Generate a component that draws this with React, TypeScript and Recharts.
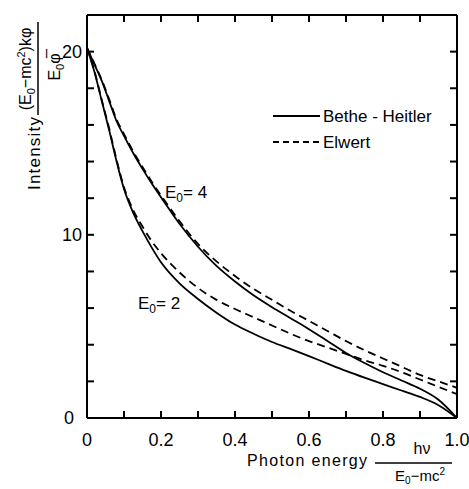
import { LineChart, Line, XAxis, YAxis } from 'recharts';

const xs = [0, 0.02, 0.04, 0.06, 0.08, 0.1, 0.125, 0.15, 0.175, 0.2, 0.25, 0.3, 0.35, 0.4, 0.45, 0.5, 0.55, 0.6, 0.65, 0.7, 0.75, 0.8, 0.85, 0.9, 0.95, 1.0];
// E0 = 4
const betheHeitler4 = [20.2, 19.3, 18.4, 17.3, 16.2, 15.4, 14.45, 13.6, 12.8, 12.05, 10.6, 9.35, 8.3, 7.45, 6.7, 6.05, 5.45, 4.85, 4.2, 3.55, 3.0, 2.5, 2.05, 1.6, 1.0, 0];
const elwert4 = [20.2, 19.35, 18.45, 17.4, 16.3, 15.5, 14.55, 13.7, 12.9, 12.15, 10.75, 9.5, 8.55, 7.75, 7.05, 6.45, 5.85, 5.3, 4.75, 4.2, 3.7, 3.25, 2.8, 2.35, 2.0, 1.65];
// E0 = 2
const betheHeitler2 = [20.2, 18.9, 17.3, 15.7, 14.0, 12.5, 11.2, 10.2, 9.3, 8.5, 7.35, 6.5, 5.75, 5.1, 4.6, 4.15, 3.77, 3.38, 2.97, 2.57, 2.2, 1.85, 1.5, 1.15, 0.7, 0];
const elwert2 = [20.2, 18.95, 17.35, 15.8, 14.1, 12.6, 11.35, 10.45, 9.65, 9.0, 7.95, 7.1, 6.45, 5.95, 5.5, 5.05, 4.6, 4.2, 3.85, 3.5, 3.15, 2.85, 2.5, 2.1, 1.7, 1.3];

const xTicks = [0, 0.1, 0.2, 0.3, 0.4, 0.5, 0.6, 0.7, 0.8, 0.9, 1.0];
const xTickLabels = ['0', '', '0.2', '', '0.4', '', '0.6', '', '0.8', '', '1.0'];
const yTicks = [0, 2, 4, 6, 8, 10, 12, 14, 16, 18, 20];
const yTickLabels = ['0', '', '', '', '', '10', '', '', '', '', '20'];

const FONT = '"Liberation Sans", Arial, sans-serif';
const axisLine = { stroke: '#000', strokeWidth: 2 };
const TICK = 7;

const data = xs.map((x, i) => ({
  x,
  bh4: betheHeitler4[i],
  el4: elwert4[i],
  bh2: betheHeitler2[i],
  el2: elwert2[i],
}));

// inward ticks, drawn by hand so they point into the plot
const BottomTick = ({ x, y, payload }: any) => {
  const label = xTickLabels[xTicks.indexOf(payload.value)] ?? '';
  return (
    <g>
      <line x1={x} y1={y} x2={x} y2={y - TICK} stroke="#000" strokeWidth={2} />
      {label && (
        <text x={x} y={y + 28} textAnchor="middle" fontSize={18} fontFamily={FONT} fill="#000">{label}</text>
      )}
    </g>
  );
};

const LeftTick = ({ x, y, payload }: any) => {
  const label = yTickLabels[yTicks.indexOf(payload.value)] ?? '';
  return (
    <g>
      <line x1={x} y1={y} x2={x + TICK} y2={y} stroke="#000" strokeWidth={2} />
      {label && (
        <text x={payload.value === 0 ? x - 13 : x - 5} y={y + 6} textAnchor="end" fontSize={18} fontFamily={FONT} fill="#000">{label}</text>
      )}
    </g>
  );
};

const TopTick = ({ x, y }: any) => (
  <line x1={x} y1={y} x2={x} y2={y + TICK} stroke="#000" strokeWidth={2} />
);

const RightTick = ({ x, y }: any) => (
  <line x1={x} y1={y} x2={x - TICK} y2={y} stroke="#000" strokeWidth={2} />
);

function Overlay() {
  return (
    <svg
      width={469}
      height={489}
      style={{ position: 'absolute', left: 0, top: 0, pointerEvents: 'none' }}
      fontFamily={FONT}
      fill="#000"
    >
      {/* legend */}
      <line x1={273} y1={116} x2={320} y2={116} stroke="#000" strokeWidth={1.8} />
      <text x={323} y={122} fontSize={17}>Bethe - Heitler</text>
      <line x1={273} y1={142} x2={320} y2={142} stroke="#000" strokeWidth={1.8} strokeDasharray="6 4" />
      <text x={323} y={148} fontSize={17}>Elwert</text>

      {/* curve labels */}
      <text x={165} y={198} fontSize={17}>
        E<tspan dy={4} fontSize={12}>0</tspan><tspan dy={-4}>= 4</tspan>
      </text>
      <text x={138} y={309} fontSize={17}>
        E<tspan dy={4} fontSize={12}>0</tspan><tspan dy={-4}>= 2</tspan>
      </text>

      {/* x title */}
      <text x={247} y={466} fontSize={16} textLength={120} lengthAdjust="spacing">Photon energy</text>
      <text x={422} y={454} fontSize={16} textAnchor="middle">hν</text>
      <line x1={375} y1={463} x2={452} y2={463} stroke="#000" strokeWidth={1.5} />
      <text x={420} y={481} fontSize={15} textAnchor="middle">
        E<tspan dy={3} fontSize={10}>0</tspan><tspan dy={-3}>−mc</tspan><tspan dy={-6} fontSize={10}>2</tspan>
      </text>

      {/* y title, rotated */}
      <g transform="translate(0,200) rotate(-90)">
        <text x={10} y={40} fontSize={17} textLength={73} lengthAdjust="spacing">Intensity</text>
        <line x1={85} y1={38} x2={178} y2={38} stroke="#000" strokeWidth={1.5} />
        <text x={131} y={31} fontSize={16} textAnchor="middle">
          (E<tspan dy={4} fontSize={11}>0</tspan><tspan dy={-4}>−mc</tspan><tspan dy={-6} fontSize={11}>2</tspan><tspan dy={6}>)kφ</tspan>
        </text>
        <text x={133} y={60} fontSize={16} textAnchor="middle">
          E<tspan dy={4} fontSize={11}>0</tspan><tspan dy={-4}>φ̅</tspan>
        </text>
      </g>
    </svg>
  );
}

export default function App() {
  return (
    <div style={{ position: 'absolute', left: 0, top: 0, width: 469, height: 489, background: '#fff' }}>
      <LineChart width={469} height={489} data={data} margin={{ top: 14, right: 11, bottom: 0, left: 0 }}>
        <XAxis
          xAxisId="b"
          dataKey="x"
          type="number"
          domain={[0, 1]}
          ticks={xTicks}
          interval={0}
          height={71}
          tickSize={0}
          tickMargin={0}
          tickLine={false}
          axisLine={axisLine}
          tick={<BottomTick />}
        />
        <XAxis
          xAxisId="t"
          orientation="top"
          dataKey="x"
          type="number"
          domain={[0, 1]}
          ticks={xTicks}
          interval={0}
          height={1}
          tickSize={0}
          tickMargin={0}
          tickLine={false}
          axisLine={axisLine}
          tick={<TopTick />}
        />
        <YAxis
          yAxisId="l"
          type="number"
          domain={[0, 22]}
          ticks={yTicks}
          interval={0}
          width={87}
          tickSize={0}
          tickMargin={0}
          tickLine={false}
          axisLine={axisLine}
          tick={<LeftTick />}
        />
        <YAxis
          yAxisId="r"
          orientation="right"
          type="number"
          domain={[0, 22]}
          ticks={yTicks}
          interval={0}
          width={1}
          tickSize={0}
          tickMargin={0}
          tickLine={false}
          axisLine={axisLine}
          tick={<RightTick />}
        />
        {/* invisible series so the top and right frame axes are drawn */}
        <Line xAxisId="t" yAxisId="r" dataKey="bh4" stroke="none" dot={false} legendType="none" isAnimationActive={false} />
        <Line xAxisId="b" yAxisId="l" dataKey="bh4" type="monotone" stroke="#000" strokeWidth={1.8} dot={false} isAnimationActive={false} />
        <Line xAxisId="b" yAxisId="l" dataKey="el4" type="monotone" stroke="#000" strokeWidth={1.8} strokeDasharray="8 5" dot={false} isAnimationActive={false} />
        <Line xAxisId="b" yAxisId="l" dataKey="bh2" type="monotone" stroke="#000" strokeWidth={1.8} dot={false} isAnimationActive={false} />
        <Line xAxisId="b" yAxisId="l" dataKey="el2" type="monotone" stroke="#000" strokeWidth={1.8} strokeDasharray="8 5" dot={false} isAnimationActive={false} />
      </LineChart>
      <Overlay />
    </div>
  );
}
